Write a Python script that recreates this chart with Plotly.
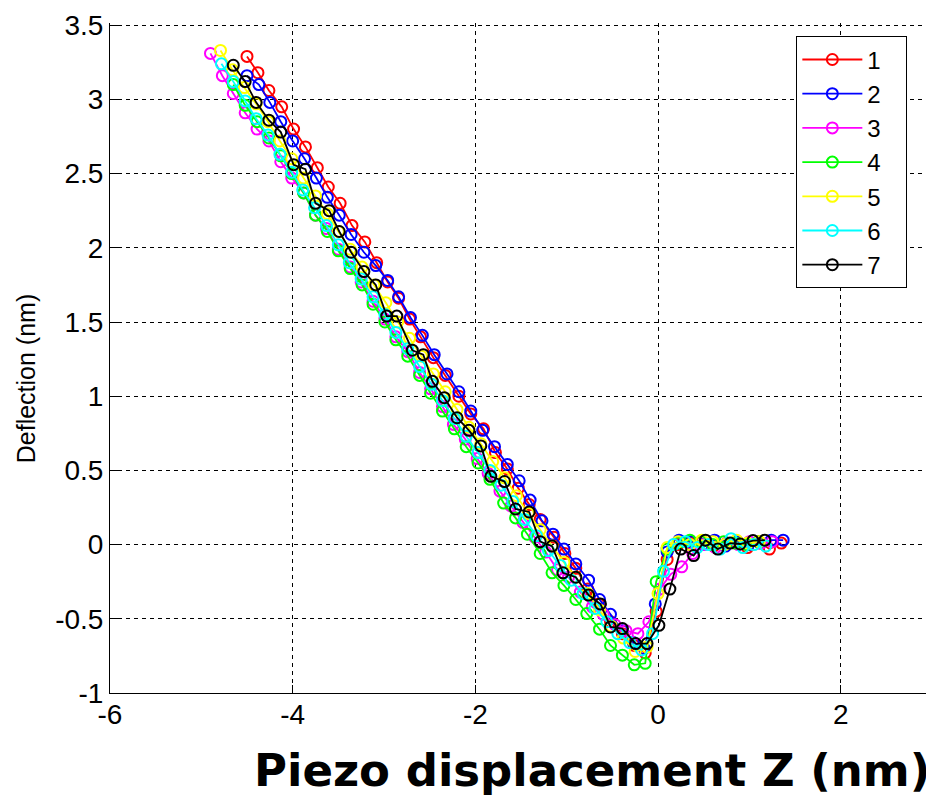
import plotly.graph_objects as go

# Series data (piezo displacement Z in nm, deflection in nm)
x1 = [-4.50, -4.38, -4.26, -4.12, -3.99, -3.86, -3.73, -3.61, -3.48, -3.35, -3.21, -3.08, -2.96, -2.84, -2.72, -2.60,
      -2.46, -2.33, -2.18, -2.05, -1.91, -1.78, -1.65, -1.53, -1.41, -1.29, -1.14, -1.02, -0.90, -0.77, -0.65, -0.52,
      -0.39, -0.26, -0.14, -0.02, 0.10, 0.22, 0.35, 0.48, 0.61, 0.73, 0.86, 0.98, 1.10, 1.22, 1.35]
y1 = [3.29, 3.18, 3.06, 2.95, 2.80, 2.68, 2.54, 2.41, 2.30, 2.15, 2.04, 1.90, 1.77, 1.66, 1.52, 1.40,
      1.26, 1.14, 1.00, 0.88, 0.78, 0.62, 0.51, 0.38, 0.27, 0.17, 0.05, -0.06, -0.16, -0.30, -0.40, -0.52,
      -0.60, -0.68, -0.73, -0.45, -0.10, 0.00, 0.01, 0.02, -0.01, 0.00, 0.01, -0.02, 0.02, -0.03, 0.01]

x2 = [-4.50, -4.37, -4.25, -4.13, -4.00, -3.87, -3.74, -3.62, -3.49, -3.36, -3.22, -3.09, -2.96, -2.84, -2.71, -2.58,
      -2.45, -2.31, -2.18, -2.05, -1.92, -1.79, -1.65, -1.52, -1.40, -1.27, -1.15, -1.03, -0.90, -0.76, -0.64, -0.52,
      -0.39, -0.27, -0.15, -0.03, 0.10, 0.23, 0.36, 0.49, 0.62, 0.74, 0.87, 0.99, 1.12, 1.24, 1.37]
y2 = [3.16, 3.10, 2.98, 2.85, 2.72, 2.60, 2.47, 2.34, 2.22, 2.09, 1.97, 1.88, 1.78, 1.67, 1.53, 1.41,
      1.28, 1.15, 1.03, 0.90, 0.77, 0.66, 0.54, 0.43, 0.30, 0.16, 0.07, -0.03, -0.13, -0.24, -0.37, -0.47,
      -0.58, -0.66, -0.70, -0.40, -0.05, 0.03, 0.02, 0.00, 0.03, -0.01, 0.02, 0.00, 0.01, 0.03, 0.03]

x3 = [-4.90, -4.77, -4.65, -4.52, -4.39, -4.26, -4.13, -4.01, -3.88, -3.75, -3.63, -3.50, -3.37, -3.25, -3.12, -2.99,
      -2.87, -2.74, -2.61, -2.49, -2.36, -2.24, -2.11, -1.98, -1.86, -1.73, -1.61, -1.48, -1.35, -1.23, -1.10, -0.98,
      -0.85, -0.72, -0.60, -0.47, -0.35, -0.22, -0.10, 0.02, 0.14, 0.26, 0.38, 0.51, 0.63, 0.75, 0.88, 1.00, 1.13, 1.25]
y3 = [3.31, 3.16, 3.04, 2.91, 2.80, 2.72, 2.58, 2.47, 2.37, 2.22, 2.13, 1.99, 1.87, 1.77, 1.64, 1.52,
      1.40, 1.30, 1.16, 1.05, 0.93, 0.81, 0.71, 0.58, 0.48, 0.36, 0.26, 0.15, 0.05, -0.05, -0.17, -0.22,
      -0.32, -0.42, -0.47, -0.54, -0.58, -0.60, -0.52, -0.30, -0.20, -0.15, -0.06, 0.00, -0.02, 0.01, 0.00, 0.02, 0.01, 0.02]

x4 = [-4.65, -4.52, -4.39, -4.26, -4.13, -4.01, -3.88, -3.75, -3.62, -3.50, -3.37, -3.24, -3.12, -2.99, -2.87, -2.74,
      -2.61, -2.49, -2.36, -2.23, -2.10, -1.97, -1.84, -1.69, -1.56, -1.43, -1.29, -1.16, -1.03, -0.90, -0.78, -0.64,
      -0.52, -0.39, -0.26, -0.14, -0.02, 0.10, 0.22, 0.35, 0.47, 0.60, 0.72, 0.85, 0.97, 1.10]
y4 = [3.10, 2.96, 2.85, 2.74, 2.62, 2.50, 2.37, 2.22, 2.11, 1.98, 1.86, 1.75, 1.62, 1.50, 1.38, 1.27,
      1.14, 1.02, 0.90, 0.78, 0.66, 0.55, 0.44, 0.28, 0.18, 0.07, -0.06, -0.19, -0.275, -0.37, -0.465, -0.57,
      -0.68, -0.745, -0.81, -0.80, -0.25, -0.03, 0.01, 0.03, 0.02, 0.00, 0.02, 0.01, 0.00, 0.02]

x5 = [-4.79, -4.66, -4.53, -4.40, -4.27, -4.14, -4.01, -3.88, -3.75, -3.62, -3.50, -3.37, -3.24, -3.11, -2.98, -2.85,
      -2.72, -2.59, -2.46, -2.33, -2.20, -2.07, -1.94, -1.81, -1.68, -1.55, -1.42, -1.29, -1.16, -1.03, -0.90, -0.77,
      -0.64, -0.51, -0.38, -0.25, -0.12, 0.00, 0.10, 0.22, 0.35, 0.48, 0.60, 0.73, 0.86, 0.98, 1.11]
y5 = [3.33, 3.20, 3.08, 2.97, 2.85, 2.72, 2.60, 2.47, 2.35, 2.23, 2.11, 1.99, 1.87, 1.75, 1.63, 1.50,
      1.39, 1.27, 1.15, 1.03, 0.91, 0.79, 0.68, 0.56, 0.45, 0.33, 0.21, 0.10, -0.01, -0.12, -0.22, -0.33,
      -0.44, -0.55, -0.63, -0.72, -0.69, -0.33, -0.02, 0.02, 0.00, 0.03, 0.02, 0.00, 0.03, 0.01, 0.02]

x6 = [-4.78, -4.65, -4.52, -4.40, -4.27, -4.14, -4.01, -3.89, -3.76, -3.63, -3.50, -3.38, -3.25, -3.12, -2.99, -2.87,
      -2.74, -2.61, -2.48, -2.36, -2.23, -2.10, -1.97, -1.84, -1.72, -1.59, -1.46, -1.33, -1.20, -1.07, -0.95, -0.82,
      -0.69, -0.56, -0.44, -0.31, -0.18, -0.06, 0.06, 0.17, 0.30, 0.43, 0.55, 0.68, 0.80, 0.93, 1.05, 1.18]
y6 = [3.24, 3.12, 2.99, 2.87, 2.76, 2.63, 2.51, 2.39, 2.27, 2.15, 2.02, 1.90, 1.79, 1.67, 1.55, 1.43,
      1.32, 1.20, 1.08, 0.97, 0.85, 0.73, 0.62, 0.50, 0.40, 0.29, 0.17, 0.06, -0.04, -0.14, -0.24, -0.33,
      -0.43, -0.52, -0.60, -0.66, -0.71, -0.60, -0.18, 0.00, 0.02, -0.02, 0.00, -0.03, 0.04, -0.02, 0.00, -0.01]

x7 = [-4.65, -4.52, -4.40, -4.26, -4.13, -3.99, -3.86, -3.75, -3.60, -3.49, -3.36, -3.22, -3.09, -2.97, -2.86, -2.69,
      -2.57, -2.47, -2.34, -2.20, -2.07, -1.94, -1.83, -1.68, -1.56, -1.41, -1.29, -1.16, -1.04, -0.90, -0.76, -0.63,
      -0.52, -0.39, -0.245, -0.12, 0.01, 0.13, 0.25, 0.39, 0.52, 0.655, 0.79, 0.90, 1.04, 1.17]
y7 = [3.23, 3.12, 2.98, 2.86, 2.78, 2.56, 2.53, 2.30, 2.25, 2.11, 1.97, 1.84, 1.75, 1.54, 1.54, 1.31,
      1.28, 1.10, 0.99, 0.855, 0.77, 0.665, 0.46, 0.425, 0.24, 0.22, 0.02, -0.01, -0.19, -0.22, -0.34, -0.40,
      -0.555, -0.566, -0.667, -0.667, -0.544, -0.30, -0.03, -0.074, 0.03, -0.03, 0.01, 0.004, 0.027, 0.03]

names = ["1", "2", "3", "4", "5", "6", "7"]
colors = ["#ff0000", "#0000ff", "#ff00ff", "#00ff00", "#ffff00", "#00ffff", "#000000"]
xs = [x1, x2, x3, x4, x5, x6, x7]
ys = [y1, y2, y3, y4, y5, y6, y7]

x_ticks = [-6, -4, -2, 0, 2]
y_ticks = [-1, -0.5, 0, 0.5, 1, 1.5, 2, 2.5, 3, 3.5]
y_ticklabels = ["-1", "-0.5", "0", "0.5", "1", "1.5", "2", "2.5", "3", "3.5"]

TICK_FONT = "Liberation Sans Narrow, Liberation Sans, Arial, sans-serif"

fig = go.Figure()
for n, c, xv, yv in zip(names, colors, xs, ys):
    fig.add_trace(go.Scatter(
        x=xv, y=yv, name=n + "\u00a0\u00a0\u00a0", mode="lines+markers",
        line=dict(color=c, width=1.8),
        marker=dict(symbol="circle-open", size=11, color=c, line=dict(width=2, color=c)),
    ))

# page body adds an 8px offset: figure is 926x797 placed at (8, 8)
fig.update_layout(
    width=926, height=797,
    margin=dict(l=102, r=2, t=13, b=112),
    paper_bgcolor="white", plot_bgcolor="white",
    font=dict(family=TICK_FONT, color="black", size=28),
    showlegend=True,
    legend=dict(
        x=0.97, y=0.98, xanchor="right", yanchor="top",
        bgcolor="white", bordercolor="black", borderwidth=1,
        font=dict(size=24, family=TICK_FONT),
        tracegroupgap=0, itemwidth=60,
    ),
    xaxis=dict(
        range=[-6, 3], tickvals=x_ticks, ticktext=[str(v) for v in x_ticks],
        showgrid=True, gridcolor="black", gridwidth=1, griddash="4px,4px",
        showline=True, linecolor="black", linewidth=1, mirror=False,
        ticks="inside", ticklen=8, tickcolor="black", zeroline=False,
        tickfont=dict(size=28), ticklabelstandoff=-4, ticklabeloverflow="allow",
    ),
    yaxis=dict(
        range=[-1, 3.515], tickvals=y_ticks, ticktext=y_ticklabels,
        showgrid=True, gridcolor="black", gridwidth=1, griddash="4px,4px",
        showline=True, linecolor="black", linewidth=1, mirror=False,
        ticks="inside", ticklen=8, tickcolor="black", zeroline=False,
        tickfont=dict(size=28), ticklabeloverflow="allow",
    ),
)

fig.add_annotation(
    text="Deflection (nm)", textangle=-90,
    xref="paper", yref="paper", x=-0.102, y=0.47, xanchor="center", yanchor="middle",
    showarrow=False,
    font=dict(family="Liberation Sans, Arial, sans-serif", size=25, color="black"),
)

fig.add_annotation(
    text="<b>Piezo displacement Z (nm)</b>",
    xref="paper", yref="paper", x=1.0, y=-0.116, xanchor="right", yanchor="middle",
    showarrow=False,
    font=dict(family="DejaVu Sans, sans-serif", size=45, color="black"),
)

fig.write_html("out.html")
